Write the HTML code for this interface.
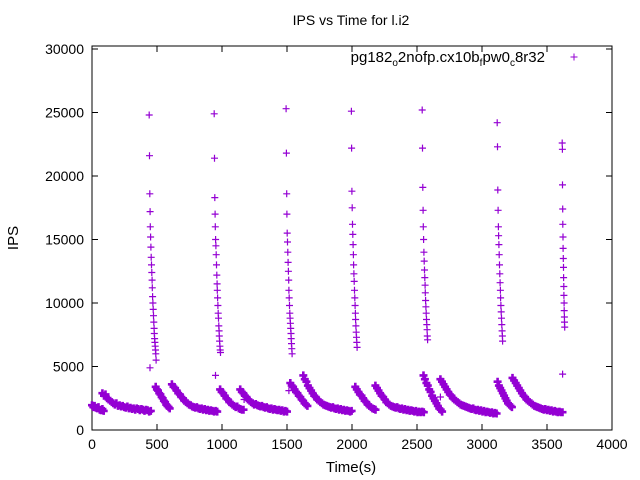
<!DOCTYPE html>
<html><head><meta charset="utf-8"><style>
html,body{margin:0;padding:0;background:#fff;}
svg{display:block;font-family:"Liberation Sans",sans-serif;}
</style></head><body>
<svg id="chart" width="640" height="480" viewBox="0 0 640 480">
<rect x="0" y="0" width="640" height="480" fill="#fff"/>
<text x="351" y="25" font-size="14" text-anchor="middle" fill="#000">IPS vs Time for l.i2</text>
<text x="18" y="238" font-size="15" text-anchor="middle" transform="rotate(-90 18 238)">IPS</text>
<text x="351" y="472" font-size="15" text-anchor="middle">Time(s)</text>
<g id="axes"></g>
<g id="marks"></g>
<g>
<text x="545" y="62" font-size="15" text-anchor="end">pg182<tspan font-size="10" dy="4">o</tspan><tspan dy="-4">2nofp.cx10b</tspan><tspan font-size="10" dy="4">f</tspan><tspan dy="-4">pw0</tspan><tspan font-size="10" dy="4">c</tspan><tspan dy="-4">8r32</tspan></text>
<path d="M570.5 57h7M574 53.5v7" stroke="#9400d3" stroke-width="1"/>
</g>
</svg>
<script>
const xTicks=[0,500,1000,1500,2000,2500,3000,3500,4000];
const yTicks=[0,5000,10000,15000,20000,25000,30000];
// sawtooth segments: start time, step (s), values
const segStarts=[0,80,490,615,985,1140,1525,1625,2025,2180,2550,2680,3120,3235];
const segSteps=[10,12,9,12,12,12,11,12,12,12,11,12,10,12];
const segValues=[
[1950,1800,1900,1750,1700,1800,1600,1550,1650,1500],
[2900,2700,2800,2500,2400,2300,2200,2100,2000,2100,1900,1950,1850,1900,1800,1750,1850,1700,1750,1650,1700,1600,1700,1650,1550,1650,1600,1500,1600,1550,1450,1500],
[3400,3200,3100,2900,2800,2600,2500,2300,2200,2000,1900,1800,1700],
[3600,3400,3300,3100,2900,2800,2600,2500,2300,2200,2100,2000,1950,1850,1800,1750,1800,1700,1650,1700,1600,1650,1550,1600,1500,1550,1500,1450,1500,1450],
[3200,3000,2900,2700,2500,2400,2200,2100,2000,1900,1800,1850,1700,1650,1600,1600],
[3200,3000,2900,2700,2600,2400,2300,2200,2100,2000,2050,1950,1900,1850,1900,1800,1750,1800,1700,1650,1700,1600,1650,1600,1550,1600,1500,1550,1450,1500,1450],
[3700,3500,3400,3200,3000,2900,2700,2600,2400,2300,2100,2000,1900],
[4300,4000,3800,3500,3300,3100,2900,2700,2600,2400,2300,2200,2100,2000,1950,1900,1850,1800,1750,1800,1700,1650,1700,1600,1650,1550,1600,1500,1550,1500,1450,1500],
[3400,3200,3000,2800,2700,2500,2300,2200,2000,1900,1800,1700,1650,1600],
[3500,3300,3100,2900,2700,2600,2400,2200,2100,2000,1900,1850,1800,1750,1800,1700,1650,1700,1600,1650,1550,1600,1500,1550,1500,1450,1500,1400,1450,1400,1450,1400],
[4300,4000,3700,3500,3200,3000,2700,2500,2300,2100,1900,1700,1600,1450],
[4000,3800,3600,3400,3200,3000,2800,2700,2500,2400,2300,2200,2100,2000,1950,1900,1850,1800,1750,1700,1650,1700,1600,1550,1600,1500,1550,1450,1500,1400,1450,1400,1350,1400,1300,1350,1300],
[3800,3500,3300,3100,2900,2700,2500,2300,2100,2000,1900,1800],
[4100,3900,3700,3500,3300,3100,2900,2700,2600,2400,2300,2200,2100,2000,1900,1850,1800,1750,1700,1650,1600,1650,1550,1600,1500,1550,1450,1500,1450,1400,1450,1400,1400]
];
// spikes: start time, step, values
const spikeStarts=[440,940,1493,1995,2540,3117,3617];
const spikeSteps=[2.2,2.2,2.2,2.2,2.2,2.2,1.2];
const spikeValues=[
[24800,21600,18600,17200,16000,15200,14400,13600,13000,12400,11800,11200,10500,10000,9500,9000,8500,8000,7600,7200,6900,6600,6300,6000,5500],
[24900,21400,18300,17000,16000,15000,14500,13800,13000,12200,11500,11000,10400,9800,9200,8800,8200,7800,7400,7000,6600,6300,6100],
[25300,21800,18600,17000,15500,14800,14000,13200,12500,11800,11000,10400,9800,9200,8800,8400,8000,7600,7200,6800,6400,6000],
[25100,22200,18800,17500,16200,15400,14600,13800,13000,12300,11700,11000,10400,9800,9200,8700,8200,7700,7300,6900,6500],
[25200,22200,19100,17300,16000,15000,14000,13300,12600,12000,11400,10800,10200,9700,9200,8700,8300,7900,7400,7100],
[24200,22300,18900,17300,16000,15300,14600,13800,13000,12300,11600,11000,10400,9800,9300,8800,8300,7800,7400,7000],
[22600,22100,19300,17400,16200,15200,14300,13500,12800,12000,11300,10600,10000,9400,8900,8500,8100]
];
const extraTimes=[446,950,1515,3620,1170,2680];
const extraValues=[4900,4300,3100,4400,2400,2600];

const X0=92,X1=612,Y0=430,Y1=49,TOP=46;
function xs(t){return X0+(t-0)/4000*(X1-X0);}
function ys(v){return Y0-(v/30000)*(Y0-Y1);}
const NS="http://www.w3.org/2000/svg";
const axes=document.getElementById('axes');
const marks=document.getElementById('marks');
function mk(tag,attrs,parent){const e=document.createElementNS(NS,tag);for(const k in attrs)e.setAttribute(k,attrs[k]);parent.appendChild(e);return e;}
const border=mk('rect',{x:X0,y:TOP,width:X1-X0,height:Y0-TOP,fill:'none',stroke:'#000','stroke-width':1},axes);


xTicks.forEach(t=>{
  const x=xs(t);
  const tk=mk('path',{d:`M${x} ${Y0}v-6M${x} ${TOP}v6`,stroke:'#000'},axes);
  
  
  const lb=mk('text',{x:x,y:Y0+19,'font-size':14,'text-anchor':'middle'},axes);
  lb.textContent=t;
  
  
});
yTicks.forEach(v=>{
  const y=ys(v);
  const tk=mk('path',{d:`M${X0} ${y}h6M${X1} ${y}h-6`,stroke:'#000'},axes);
  
  
  const lb=mk('text',{x:X0-8,y:y+5,'font-size':14,'text-anchor':'end'},axes);
  lb.textContent=v;
  
  
});
function plus(t,v,s){const x=xs(t),y=ys(v);return `M${(x-s).toFixed(1)} ${y.toFixed(1)}h${2*s}M${x.toFixed(1)} ${(y-s).toFixed(1)}v${2*s}`;}
let dSeg='',dSpk='';
segValues.forEach((vals,i)=>vals.forEach((v,j)=>{dSeg+=plus(segStarts[i]+j*segSteps[i],v,4);}));
spikeValues.forEach((vals,i)=>vals.forEach((v,j)=>{dSpk+=plus(spikeStarts[i]+j*spikeSteps[i],v,3.5);}));
extraValues.forEach((v,i)=>{dSpk+=plus(extraTimes[i],v,3.5);});
const p1=mk('path',{d:dSeg,stroke:'#9400d3','stroke-width':2.6,fill:'none'},marks);


const p2=mk('path',{d:dSpk,stroke:'#9400d3','stroke-width':1.2,fill:'none'},marks);


</script>
</body></html>
